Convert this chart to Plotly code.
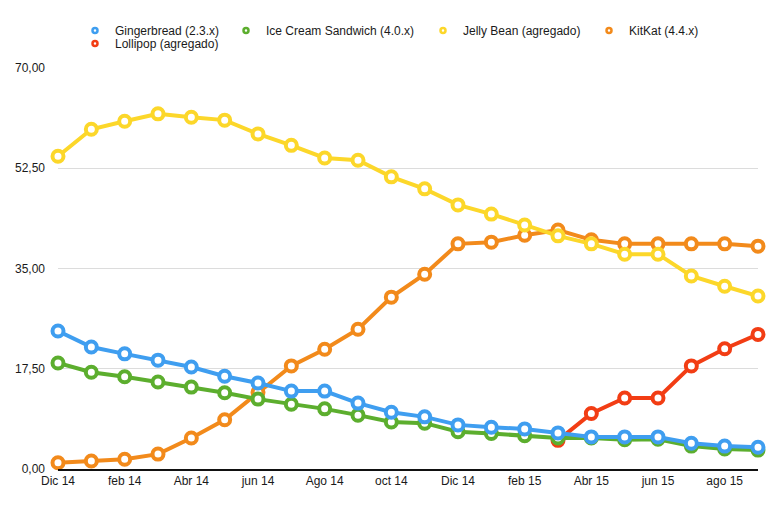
import plotly.graph_objects as go

# ---- data ----
months_idx = list(range(22))
tick_idx = [0, 2, 4, 6, 8, 10, 12, 14, 16, 18, 20]
tick_labels = ["Dic 14", "feb 14", "Abr 14", "jun 14", "Ago 14", "oct 14",
               "Dic 14", "feb 15", "Abr 15", "jun 15", "ago 15"]

gingerbread = [24.1, 21.3, 20.1, 19.0, 17.8, 16.2, 15.0, 13.6, 13.6, 11.5, 9.9,
               9.1, 7.7, 7.3, 7.0, 6.3, 5.6, 5.6, 5.6, 4.5, 4.0, 3.8]
ice_cream = [18.5, 16.9, 16.1, 15.2, 14.3, 13.3, 12.2, 11.3, 10.5, 9.4, 8.2,
             8.0, 6.5, 6.2, 5.8, 5.4, 5.4, 5.1, 5.2, 4.0, 3.5, 3.3]
jelly_bean = [54.6, 59.3, 60.7, 62.0, 61.4, 60.9, 58.5, 56.5, 54.3, 53.9, 51.0,
              48.9, 46.1, 44.5, 42.6, 40.7, 39.3, 37.5, 37.5, 33.7, 31.9, 30.2]
kitkat = [1.1, 1.4, 1.7, 2.6, 5.4, 8.6, 13.4, 18.0, 20.9, 24.4, 30.0,
          34.0, 39.3, 39.6, 40.8, 41.7, 40.0, 39.3, 39.3, 39.3, 39.3, 38.9]
lollipop = [None] * 15 + [5.0, 9.7, 12.4, 12.4, 18.0, 21.0, 23.5]

series_names = ["Gingerbread (2.3.x)", "Ice Cream Sandwich (4.0.x)",
                "Jelly Bean (agregado)", "KitKat (4.4.x)", "Lollipop (agregado)"]
series_values = [gingerbread, ice_cream, jelly_bean, kitkat, lollipop]
series_colors = ["#3f9ef0", "#5cae2e", "#fcd72a", "#f28a1b", "#f23d14"]

y_ticks = [0, 17.5, 35, 52.5, 70]

PLOT_L, PLOT_T, PLOT_W, PLOT_H = 58, 68, 700, 401


def px_x(px):
    return (px - PLOT_L) / PLOT_W


def px_y(px):
    return 1.0 + (PLOT_T - px) / PLOT_H


# legend item placement (pixel positions of each item's left edge / row top)
legend_left = [75, 226, 423, 589, 75]
legend_top = [16, 16, 16, 16, 29]
legend_ids = ["legend", "legend2", "legend3", "legend4", "legend5"]

fig = go.Figure()

# legend entries (marker only), in legend order
for name, color, lg in zip(series_names, series_colors, legend_ids):
    fig.add_trace(go.Scatter(
        x=[None], y=[None], mode="markers", name=name, legend=lg,
        marker=dict(symbol="circle", size=5, color="white",
                    line=dict(color=color, width=2.5)),
        showlegend=True, hoverinfo="skip"))

# data series drawn in reverse so Gingerbread ends up on top
for name, vals, color in reversed(list(zip(series_names, series_values, series_colors))):
    fig.add_trace(go.Scatter(
        x=months_idx, y=vals, mode="lines+markers", name=name,
        line=dict(color=color, width=4),
        marker=dict(symbol="circle", size=11, color="white",
                    line=dict(color=color, width=4)),
        cliponaxis=False, showlegend=False, connectgaps=False))

legend_common = dict(orientation="h", xanchor="left", yanchor="top",
                     font=dict(size=12, color="#1a1a1a"), itemwidth=30,
                     bgcolor="rgba(0,0,0,0)", borderwidth=0)

legend_layout = {lg: dict(x=px_x(lx), y=px_y(ly), **legend_common)
                 for lg, lx, ly in zip(legend_ids, legend_left, legend_top)}

fig.update_layout(
    width=784, height=506,
    margin=dict(l=PLOT_L, r=26, t=PLOT_T, b=37, pad=0),
    paper_bgcolor="white", plot_bgcolor="white",
    separators=",.",
    font=dict(family="Liberation Sans, Arial, sans-serif", size=12, color="#1a1a1a"),
    showlegend=True,
    xaxis=dict(range=[0, 21], tickmode="array", tickvals=tick_idx, ticktext=tick_labels,
               showgrid=False, zeroline=False, showline=True, linecolor="#111",
               linewidth=1.5, ticks="", tickfont=dict(size=12)),
    yaxis=dict(range=[0, 70], tickmode="array", tickvals=y_ticks, tickformat=".2f",
               showgrid=True, gridcolor="#dcdcdc", gridwidth=1, zeroline=False,
               showline=False, ticks="", ticklabelstandoff=12, tickfont=dict(size=12)),
    **legend_layout,
)

fig.write_html("out.html")
